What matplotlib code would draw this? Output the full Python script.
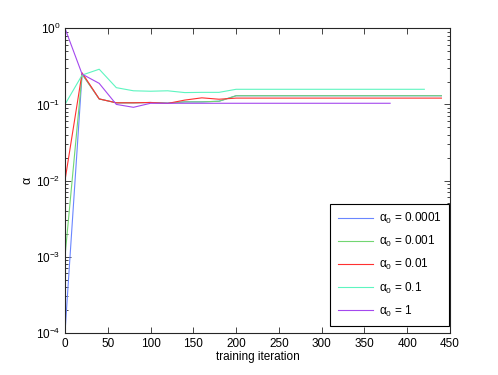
import matplotlib
matplotlib.use("Agg")
import matplotlib.pyplot as plt
import numpy as np

plt.rcParams['font.family'] = ['Liberation Sans', 'DejaVu Sans']
plt.rcParams['mathtext.fontset'] = 'custom'
plt.rcParams['mathtext.rm'] = 'Liberation Sans'
plt.rcParams['mathtext.it'] = 'Liberation Sans:italic'
plt.rcParams['mathtext.default'] = 'regular'

# Data
iters_main = [0, 20, 40, 60, 80, 100, 120, 140, 160, 180, 200, 440]
iters_cyan = [0, 20, 40, 60, 80, 100, 120, 140, 160, 180, 200, 420]
iters_purple = [0, 20, 40, 60, 80, 100, 120, 380]

a_0001 = [1e-4, 0.25, 0.118, 0.105, 0.105, 0.106, 0.104, 0.108, 0.108, 0.110, 0.130, 0.130]
a_001 = [1e-3, 0.25, 0.118, 0.105, 0.105, 0.106, 0.104, 0.108, 0.108, 0.110, 0.130, 0.130]
a_01 = [1e-2, 0.26, 0.118, 0.105, 0.105, 0.106, 0.103, 0.114, 0.122, 0.117, 0.121, 0.121]
a_1 = [1e-1, 0.243, 0.29, 0.166, 0.151, 0.149, 0.151, 0.143, 0.144, 0.144, 0.158, 0.158]
a_10 = [1.0, 0.25, 0.189, 0.100, 0.0916, 0.1035, 0.1035, 0.1035]

labels = [r'$\alpha_0$ = 0.0001', r'$\alpha_0$ = 0.001', r'$\alpha_0$ = 0.01',
          r'$\alpha_0$ = 0.1', r'$\alpha_0$ = 1']
colors = ['#6a86ff', '#72d672', '#ff3030', '#5ef5c0', '#a448ee']

fig = plt.figure(figsize=(4.98, 3.75), dpi=100)
ax = fig.add_axes([0.1305, 0.1128, 0.7731, 0.8117])

series = [(iters_main, a_0001), (iters_main, a_001), (iters_main, a_01),
          (iters_cyan, a_1), (iters_purple, a_10)]
for (x, y), c, lab in zip(series, colors, labels):
    ax.plot(x, y, color=c, lw=0.8, label=lab)

ax.set_yscale('log')
ax.set_xlim(0, 450)
ax.set_ylim(1e-4, 1)
ax.set_xticks(np.arange(0, 451, 50))
ax.tick_params(which='both', direction='in', top=True, right=True,
               labelsize=8.5, color='#262626', width=0.6)
ax.tick_params(which='major', length=4)
ax.tick_params(which='minor', length=2)
for s in ax.spines.values():
    s.set_linewidth(0.8)
    s.set_color('#262626')

ax.set_xlabel('training iteration', fontsize=8.5, labelpad=1)
ax.set_ylabel(r'$\alpha$', fontsize=9, labelpad=1)

leg = ax.legend(loc='lower right', bbox_to_anchor=(0.9974, 0.022),
                fontsize=8.5, frameon=True, fancybox=False,
                framealpha=1, edgecolor='black', borderaxespad=0,
                handlelength=3.0, labelspacing=0.68, borderpad=0.62,
                handletextpad=0.5)
leg.get_frame().set_linewidth(0.8)

fig.savefig('out.png', dpi=100)
